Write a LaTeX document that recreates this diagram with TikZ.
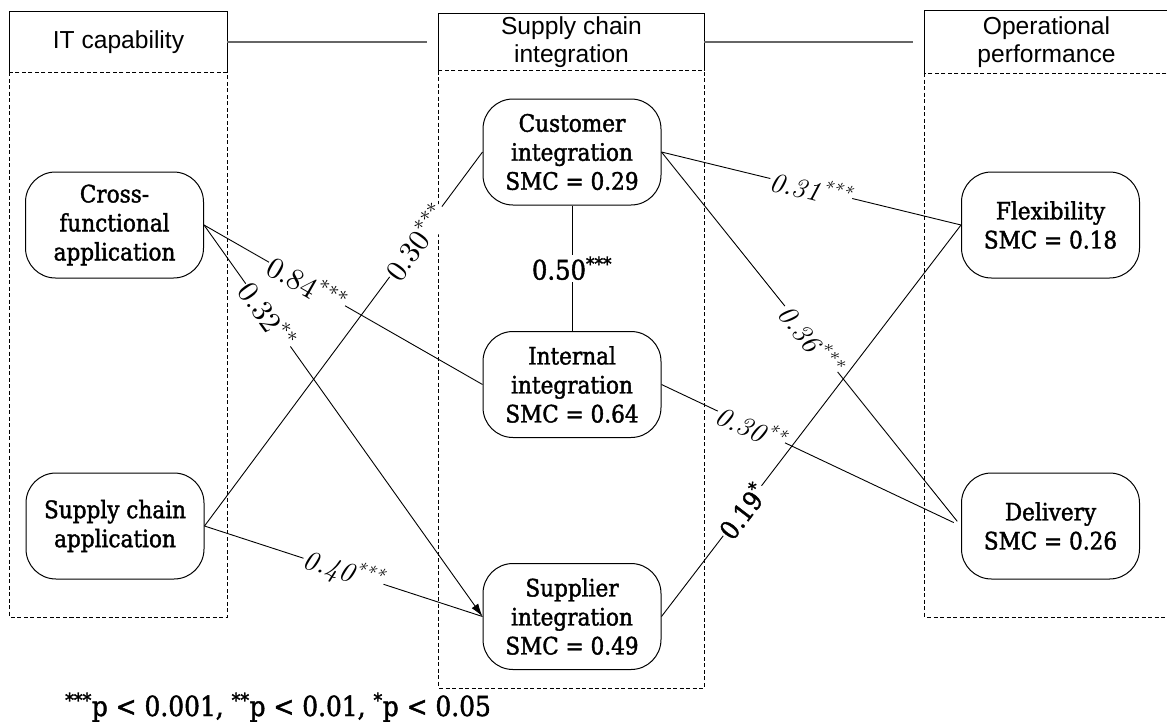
\documentclass[tikz,border=0pt]{standalone}
\usepackage{fontspec}
\usetikzlibrary{positioning,calc,arrows.meta}
\newfontfamily\headfont{Liberation Sans}
\newfontfamily\boxfont{DejaVu Serif Condensed}[FakeBold=1.6]
\newfontfamily\coeffont{lmroman10-regular}[Extension=.otf, ItalicFont=lmroman10-italic]

\tikzset{
  header/.style={inner sep=0pt, align=center, font=\headfont\fontsize{24.6}{28}\selectfont},
  headline/.style={line width=1.1pt},
  headlink/.style={line width=1.4pt, black!60, shorten >=12pt},
  groupbox/.style={line width=0.9pt, dash pattern=on 4pt off 2.5pt},
  construct/.style={draw, line width=1pt, rounded corners=30pt, minimum width=178pt,
    minimum height=106pt, inner sep=0pt, align=center, font=\boxfont\fontsize{24}{29}\selectfont},
  link/.style={line width=0.9pt},
  coef/.style={sloped, fill=white, inner sep=1pt, font=\coeffont\fontsize{30}{30}\selectfont},
  coefit/.style={sloped, fill=white, inner sep=1pt, font=\coeffont\itshape\fontsize{28}{28}\selectfont},
  coefds/.style={sloped, fill=white, inner sep=1pt, font=\boxfont\fontsize{26}{26}\selectfont}
}

\begin{document}
\begin{tikzpicture}[x=1pt,y=-1pt]
    \useasboundingbox (0,0) rectangle (1167,721);

    % group headers
    \node[header, minimum width=217pt, minimum height=60pt] (itcap) at (118.5,42) {IT capability};
    \node[header, minimum width=265pt, minimum height=57pt] (scint) at (571.5,42) {Supply chain\\integration};
    \node[header, minimum width=243pt, minimum height=62pt] (opperf) at (1046.5,42) {Operational\\performance};

    % group frames
    \coordinate (itend) at (227,617);
    \coordinate (scend) at (704,688);
    \coordinate (opend) at (1168,617);
    \draw[groupbox] (itcap.south west) rectangle (itend);
    \draw[groupbox] (scint.south west) rectangle (scend);
    \draw[groupbox] (opperf.south west) rectangle (opend);

    \draw[headline] (itcap.south west) |- (itcap.north east) -- (itcap.south east);
    \draw[headline] (scint.south west) |- (scint.north east) -- (scint.south east);
    \draw[headline] (opperf.south west) |- (opperf.north east) -- (opperf.south east);

    % links between headers
    \draw[headlink] (itcap.east) -- (scint.west);
    \draw[headlink] (scint.east) -- (opperf.west);

    % constructs
    \node[construct] (cfa) at (114.5,225) {Cross-\\functional\\application};
    \node[construct] (sca) at (115,526) {Supply chain\\application};

    \node[construct] (ci) at (572,152) {Customer\\integration\\SMC = 0.29};
    \node[construct] (ii) at (572,384.5) {Internal\\integration\\SMC = 0.64};
    \node[construct] (si) at (572,616.5) {Supplier\\integration\\SMC = 0.49};

    \node[construct] (flex) at (1050.5,225) {Flexibility\\SMC = 0.18};
    \node[construct] (del) at (1050.5,526) {Delivery\\SMC = 0.26};

    % paths with coefficients
    \draw[link] (cfa.east) -- node[coef, pos=0.37] {0.84\textsuperscript{***}} (ii.west);
    \draw[link, -{Latex[length=13pt,width=8pt]}] (cfa.east) -- node[coef, pos=0.23] {0.32\textsuperscript{**}} (si.west);
    \draw[link] (sca.east) -- node[coef, pos=0.76] {0.30\textsuperscript{***}} (ci.west);
    \draw[link] (sca.east) -- node[coefit, pos=0.5] {0.40\textsuperscript{***}} (si.west);

    \draw[link] (ci.east) -- node[coefit, pos=0.5] {0.31\textsuperscript{***}} (flex.west);
    \draw[link, shorten >=6pt] (ci.east) -- node[coefit, pos=0.5] {0.36\textsuperscript{***}} (del.west);
    \draw[link, shorten >=8pt] (ii.east) -- node[coefit, pos=0.3] {0.30\textsuperscript{**}} (del.west);
    \draw[link] (si.east) -- node[coefds, pos=0.27] {0.19\textsuperscript{*}} (flex.west);

    \draw[link] (ci.south) -- node[fill=white, inner sep=2pt, font=\boxfont\fontsize{27}{27}\selectfont] {0.50\textsuperscript{***}} (ii.north);

    % significance note
    \node[anchor=base west, inner sep=0pt, font=\boxfont\fontsize{27.7}{30}\selectfont] (note) at (65,716)
        {\textsuperscript{***}p < 0.001, \textsuperscript{**}p < 0.01, \textsuperscript{*}p < 0.05};

\end{tikzpicture}
\end{document}
